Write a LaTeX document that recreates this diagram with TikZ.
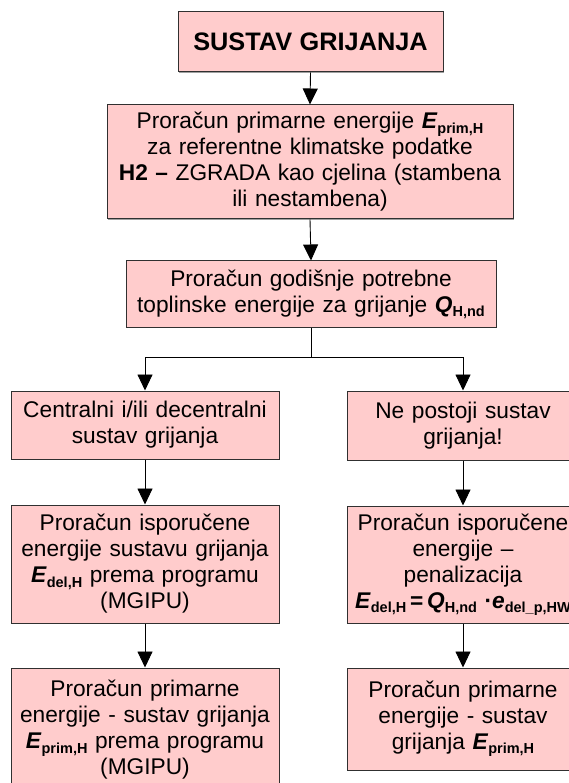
\documentclass[tikz,border=0pt]{standalone}
\usepackage{fontspec}
\setmainfont{Liberation Sans}
\usetikzlibrary{arrows.meta,shadows}
\definecolor{boxpink}{HTML}{FFCCCC}
\definecolor{boxline}{HTML}{303030}
\definecolor{shadowgray}{HTML}{A0A0A0}
\newcommand{\bi}[1]{\textbf{\textit{#1}}}
\newcommand{\sbs}[1]{\raisebox{-0.35ex}{\fontsize{14.5}{14.5}\selectfont\bfseries #1}}
\begin{document}
\begin{tikzpicture}[x=1pt,y=-1pt,
  box/.style={draw=boxline, line width=1pt, fill=boxpink, inner xsep=6pt, inner ysep=0pt,
    align=center, font=\fontsize{22.7}{26}\selectfont,
    drop shadow={shadow xshift=1.2pt, shadow yshift=-1.2pt, fill=shadowgray, opacity=1}},
  conn/.style={line width=0.9pt, -{Triangle[length=16pt,width=15pt]}},
  plain/.style={line width=0.9pt}]
\useasboundingbox (0,0) rectangle (569,783);
\clip (0,0) rectangle (569,783);
\fill[white] (0,0) rectangle (569,783);
\node[box, text width=253pt, minimum height=60pt] (b1) at (310.5,42)
  {\fontsize{25.3}{28}\selectfont\bfseries SUSTAV GRIJANJA};
\node[box, text width=394pt, minimum height=114pt] (b2) at (310,162)
  {Proračun primarne energije \bi{E}\sbs{prim,H}\\ za referentne klimatske podatke\\ \textbf{H2 –} ZGRADA kao cjelina (stambena\\ ili nestambena)};
\node[box, text width=358pt, minimum height=66pt] (b3) at (311,294)
  {Proračun godišnje potrebne\\ toplinske energije za grijanje \bi{Q}\sbs{H,nd}};
\node[box, text width=256pt, minimum height=68pt] (b4) at (145,425)
  {Centralni i/ili decentralni\\ sustav grijanja};
\node[box, text width=220pt, minimum height=69pt] (b5) at (463,425.5)
  {Ne postoji sustav\\ grijanja!};
\node[box, text width=256pt, minimum height=118pt] (b6) at (145,564)
  {Proračun isporučene\\ energije sustavu grijanja\\ \bi{E}\sbs{del,H} prema programu\\ (MGIPU)};
\node[box, text width=220pt, minimum height=117pt] (b7) at (463,564.5)
  {Proračun isporučene\\ energije –\\ penalizacija\\ \bi{E}\sbs{del,H}\,\textbf{=}\,\bi{Q}\sbs{H,nd} \textbf{·}\bi{e}\sbs{del\_p,HW}};
\node[box, text width=256pt, minimum height=124pt] (b8) at (145,730)
  {Proračun primarne\\ energije - sustav grijanja\\ \bi{E}\sbs{prim,H} prema programu\\ (MGIPU)};
\node[box, text width=220pt, minimum height=102pt] (b9) at (463,719)
  {Proračun primarne\\ energije - sustav\\ grijanja \bi{E}\sbs{prim,H}};
\coordinate (br) at (311,357);
\draw[conn] (b1.south) -- (b2.north);
\draw[conn] (b2.south) -- (b3.north);
\draw[plain] (b3.south) -- (br);
\draw[conn] (br) -| (b4.north);
\draw[conn] (br) -| (b5.north);
\draw[conn] (b4.south) -- (b6.north);
\draw[conn] (b5.south) -- (b7.north);
\draw[conn] (b6.south) -- (b8.north);
\draw[conn] (b7.south) -- (b9.north);
\end{tikzpicture}
\end{document}
